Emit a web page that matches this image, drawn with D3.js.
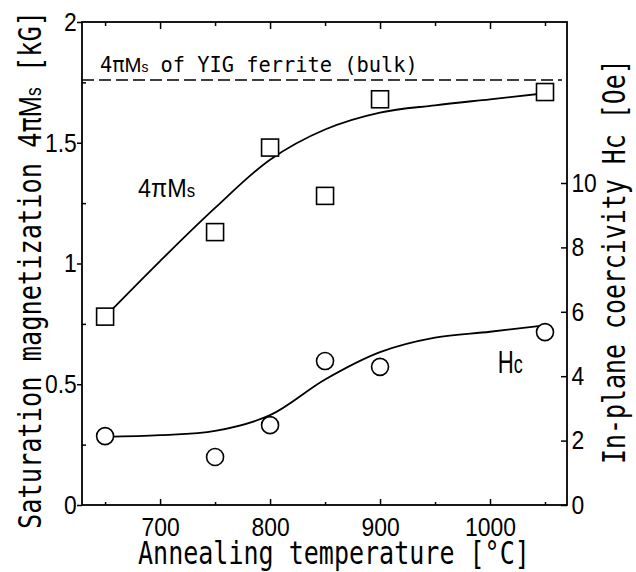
<!DOCTYPE html>
<html><head><meta charset="utf-8">
<script src="https://cdn.jsdelivr.net/npm/d3@7"></script>
<style>
body{margin:0;background:#fff;}
svg{display:block;}
</style></head><body>
<svg id="chart" width="636" height="572"></svg>
<script>
// ---- data ----
const temps = [650, 750, 800, 850, 900, 1050];
const msValues = [0.78, 1.13, 1.48, 1.28, 1.68, 1.71];   // kG
const hcValues = [2.14, 1.49, 2.48, 4.47, 4.29, 5.37];   // Oe
const fitTemps = [650, 700, 750, 800, 850, 900, 950, 1000, 1050];
const fitMs = [0.78, 1.01, 1.23, 1.43, 1.555, 1.625, 1.655, 1.68, 1.705];
const fitHc = [2.12, 2.17, 2.30, 2.79, 3.9, 4.75, 5.2, 5.38, 5.58];
const bulkMs = 1.76;
const xMajorTicks = [700, 800, 900, 1000];
const xMinorTicks = [650, 750, 850, 950, 1050];
const yLeftMajor = [0, 0.5, 1, 1.5, 2];
const yLeftLabels = ["0", "0.5", "1", "1.5", "2"];
const yLeftMinor = [0.25, 0.75, 1.25, 1.75];
const yRightTicks = [0, 2, 4, 6, 8, 10];
const yRightLabels = ["0", "2", "4", "6", "8", "10"];

// ---- layout ----
const svg = d3.select("#chart");
const L = 82, R = 567, T = 22, B = 505;
const x = d3.scaleLinear().domain([629, 1070]).range([L, R]);
const yL = d3.scaleLinear().domain([0, 2]).range([B, T]);
const yR = d3.scaleLinear().domain([0, 15]).range([B, T]);

const SANS = "'Liberation Sans', Arial, sans-serif";
const MONO = "'DejaVu Sans Mono', 'Liberation Mono', monospace";

function styleAxis(g) {
  g.select(".domain").remove();
  g.selectAll(".tick line").attr("stroke", "#000").attr("stroke-width", 1.5);
  g.selectAll(".tick text")
    .attr("fill", "#000")
    .style("font-family", SANS)
    .style("font-size", "26px")
    .attr("transform", "scale(0.88,1)");
}

// bottom axis
svg.append("g").attr("transform", `translate(0,${B})`)
  .call(d3.axisBottom(x).tickValues(xMajorTicks).tickSizeInner(-6).tickSizeOuter(0)
    .tickPadding(13).tickFormat(d3.format("d"))).call(styleAxis);
svg.append("g").attr("transform", `translate(0,${B})`)
  .call(d3.axisBottom(x).tickValues(xMinorTicks).tickSizeInner(-3).tickSizeOuter(0)
    .tickFormat("")).call(styleAxis);
// top axis
svg.append("g").attr("transform", `translate(0,${T})`)
  .call(d3.axisTop(x).tickValues(xMajorTicks).tickSizeInner(-7).tickSizeOuter(0)
    .tickFormat("")).call(styleAxis);
svg.append("g").attr("transform", `translate(0,${T})`)
  .call(d3.axisTop(x).tickValues(xMinorTicks).tickSizeInner(-4).tickSizeOuter(0)
    .tickFormat("")).call(styleAxis);
// left axis
svg.append("g").attr("transform", `translate(${L},0)`)
  .call(d3.axisLeft(yL).tickValues(yLeftMajor).tickSizeInner(5).tickSizeOuter(0)
    .tickPadding(1).tickFormat((d, i) => yLeftLabels[i])).call(styleAxis);
svg.append("g").attr("transform", `translate(${L},0)`)
  .call(d3.axisLeft(yL).tickValues(yLeftMinor).tickSizeInner(-4).tickSizeOuter(0)
    .tickFormat("")).call(styleAxis);
// right axis
svg.append("g").attr("transform", `translate(${R},0)`)
  .call(d3.axisRight(yR).tickValues(yRightTicks).tickSizeInner(-6).tickSizeOuter(0)
    .tickPadding(5).tickFormat((d, i) => yRightLabels[i])).call(styleAxis);

// frame
svg.append("rect").attr("x", L).attr("y", T).attr("width", R - L).attr("height", B - T)
  .attr("fill", "none").attr("stroke", "#000").attr("stroke-width", 1.8);

// bulk dashed line
svg.append("line")
  .attr("x1", x.range()[0]).attr("x2", x.range()[1] - 5)
  .attr("y1", yL(bulkMs)).attr("y2", yL(bulkMs))
  .attr("stroke", "#000").attr("stroke-width", 1.6).attr("stroke-dasharray", "12,5");

// fitted curves
const lineMs = d3.line().x((d, i) => x(fitTemps[i])).y(d => yL(d)).curve(d3.curveCatmullRom.alpha(0.5));
const lineHc = d3.line().x((d, i) => x(fitTemps[i])).y(d => yR(d)).curve(d3.curveCatmullRom.alpha(0.5));
svg.append("path").attr("d", lineMs(fitMs)).attr("fill", "none").attr("stroke", "#000").attr("stroke-width", 1.8);
svg.append("path").attr("d", lineHc(fitHc)).attr("fill", "none").attr("stroke", "#000").attr("stroke-width", 1.8);

// markers
const SQ = 17;
svg.selectAll("rect.ms").data(msValues).enter().append("rect").attr("class", "ms")
  .attr("x", (d, i) => x(temps[i]) - SQ / 2).attr("y", d => yL(d) - SQ / 2)
  .attr("width", SQ).attr("height", SQ)
  .attr("fill", "#fff").attr("stroke", "#000").attr("stroke-width", 1.6);
svg.selectAll("circle.hc").data(hcValues).enter().append("circle").attr("class", "hc")
  .attr("cx", (d, i) => x(temps[i])).attr("cy", d => yR(d)).attr("r", 8.5)
  .attr("fill", "#fff").attr("stroke", "#000").attr("stroke-width", 1.6);

// ---- texts ----
// place a text at (tx,ty), rotated, horizontally squeezed so its length equals len
function squeeze(t, len, tx, ty, rot) {
  const nat = t.node().getComputedTextLength();
  const s = len / nat;
  t.attr("transform", `translate(${tx},${ty}) rotate(${rot || 0}) scale(${s},1)`);
  return t;
}

// bulk label
const tb = svg.append("text")
  .style("font-family", MONO).style("font-size", "20.5px").attr("fill", "#000");
tb.append("tspan").text("4π");
tb.append("tspan").style("font-family", SANS).text("M");
tb.append("tspan").style("font-family", SANS).style("font-size", "14px").text("s");
tb.append("tspan").text(" of YIG ferrite (bulk)");
squeeze(tb, 318, 100, 72);

// 4πMs annotation
const ta = svg.append("text")
  .style("font-family", SANS).style("font-size", "26.5px").attr("fill", "#000");
ta.append("tspan").text("4πM");
ta.append("tspan").style("font-size", "19px").text("s");
squeeze(ta, 57, x(680), yL(1.275));

// Hc annotation
const th = svg.append("text")
  .style("font-family", SANS).style("font-size", "32px").attr("fill", "#000");
th.append("tspan").text("H");
th.append("tspan").style("font-size", "26px").text("c");
squeeze(th, 25, x(1007), yR(4.1));

// x title
const tx = svg.append("text")
  .style("font-family", MONO).style("font-size", "32px").attr("fill", "#000")
  .text("Annealing temperature [°C]");
squeeze(tx, 392, 138, 564);

// left title
const tl = svg.append("text")
  .style("font-family", MONO).style("font-size", "32px").attr("fill", "#000");
tl.append("tspan").text("Saturation magnetization 4π");
tl.append("tspan").style("font-family", SANS).text("M");
tl.append("tspan").style("font-family", SANS).style("font-size", "22px").text("s");
tl.append("tspan").text(" [kG]");
squeeze(tl, 518, 41, 529, -90);

// right title
const tr = svg.append("text")
  .style("font-family", MONO).style("font-size", "32px").attr("fill", "#000")
  .text("In-plane coercivity Hc [Oe]");
squeeze(tr, 405, 625, 464, -90);
</script>
</body></html>
